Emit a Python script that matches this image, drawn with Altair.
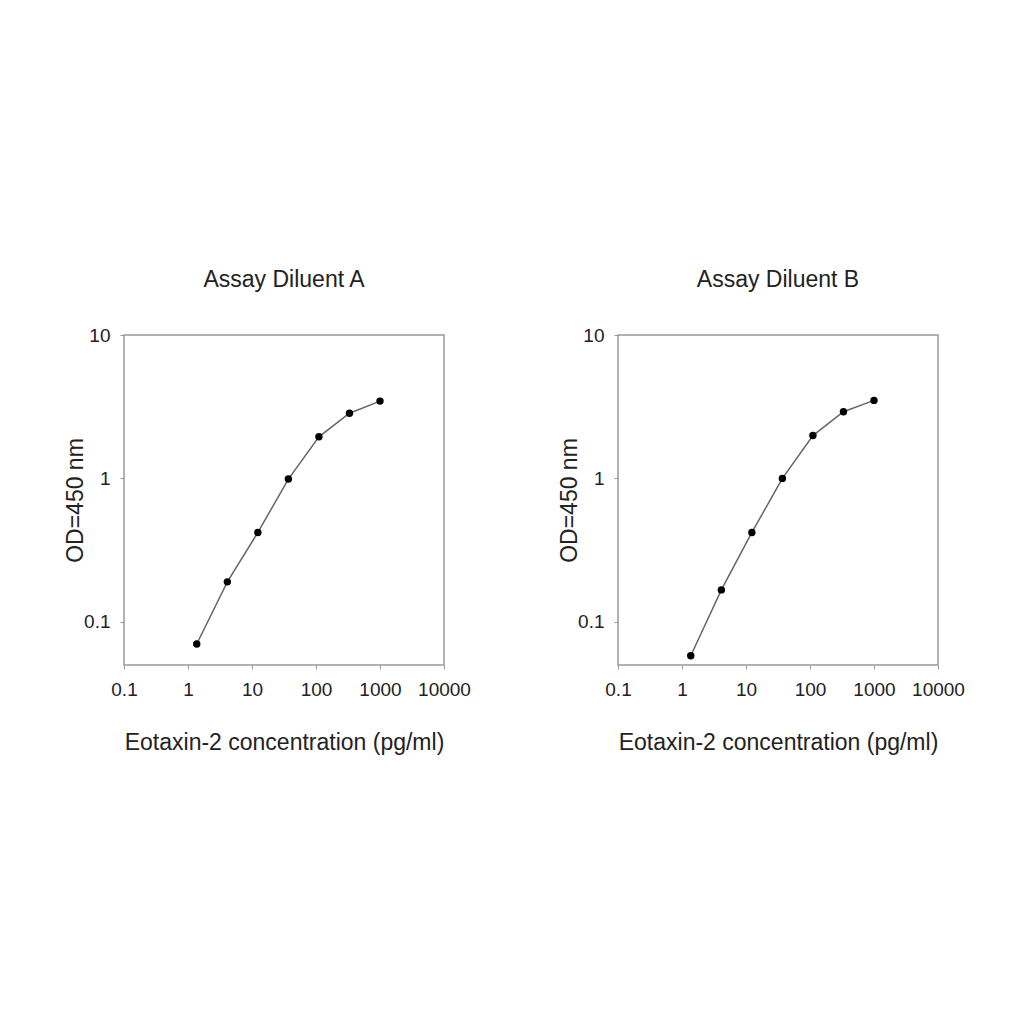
import altair as alt
import pandas as pd

conc = [1.37, 4.12, 12.35, 37.04, 111.1, 333.3, 1000]
od_a = [0.070, 0.19, 0.42, 0.99, 1.95, 2.85, 3.46]
od_b = [0.058, 0.167, 0.42, 1.0, 1.99, 2.92, 3.50]
titles = ["Assay Diluent A", "Assay Diluent B"]
x_ticks = [0.1, 1, 10, 100, 1000, 10000]
y_ticks = [0.1, 1, 10]

FONT = "Liberation Sans"


def panel(vals, title):
    df = pd.DataFrame({"conc": conc, "od": vals})
    x = alt.X("conc:Q",
              scale=alt.Scale(type="log", domain=[0.1, 10000], nice=False),
              axis=alt.Axis(values=x_ticks, format="~g", title="Eotaxin-2 concentration (pg/ml)",
                            grid=False, domain=False, tickSize=4, tickColor="#999",
                            labelOverlap=False, labelFlush=False,
                            labelFontSize=19, titleFontSize=23, labelPadding=11, titlePadding=32,
                            labelColor="#222", titleColor="#222", titleFontWeight="normal",
                            labelFont=FONT, titleFont=FONT))
    y = alt.Y("od:Q",
              scale=alt.Scale(type="log", domain=[0.05, 10], nice=False),
              axis=alt.Axis(values=y_ticks, format="~g", title="OD=450 nm",
                            grid=False, domain=False, tickSize=4, tickColor="#999",
                            labelOverlap=False, labelFlush=False,
                            labelFontSize=19, titleFontSize=23, labelPadding=10, titlePadding=-4,
                            labelColor="#222", titleColor="#222", titleFontWeight="normal",
                            labelFont=FONT, titleFont=FONT))
    base = alt.Chart(df)
    line = base.mark_line(color="#666", strokeWidth=1.5).encode(x=x, y=y)
    pts = base.mark_circle(color="black", size=55, opacity=1).encode(x=x, y=y)
    return alt.layer(line, pts).properties(
        width=320, height=330,
        title=alt.TitleParams(title, fontSize=23, font=FONT, fontWeight="normal",
                              color="#222", offset=34))


chart = alt.hconcat(panel(od_a, titles[0]), panel(od_b, titles[1]), spacing=85).configure_view(
    stroke="#999", strokeWidth=1.5
).properties(padding={"left": 55, "top": 260, "right": 10, "bottom": 10}, background="white")

chart.save("out.html", embed_options={"renderer": "svg", "actions": False})
